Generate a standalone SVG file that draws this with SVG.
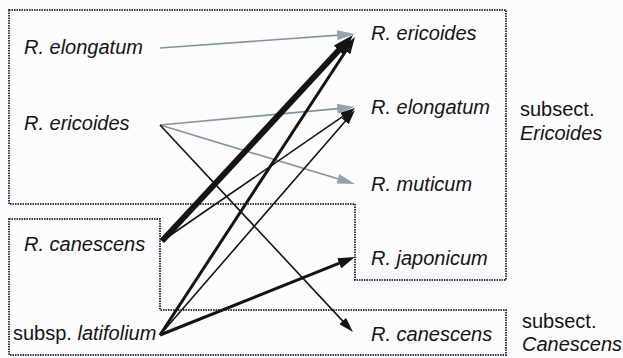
<svg xmlns="http://www.w3.org/2000/svg" width="623" height="358" viewBox="0 0 623 358">
<style>
text{font-family:"Liberation Sans",Arial,sans-serif;font-size:20px;fill:#141414}
.it{font-style:italic}
.box{fill:none;stroke:#2f3c46;stroke-width:2;stroke-dasharray:1.5 1}
.g{stroke:#7f96a1;stroke-width:1.6;fill:none}
.k1{stroke:#141414;stroke-width:1.6;fill:none}
.k3{stroke:#141414;stroke-width:3;fill:none}
.k6{stroke:#141414;stroke-width:6;fill:none}
</style>
<defs>
<marker id="ag" markerUnits="userSpaceOnUse" markerWidth="18" markerHeight="10" refX="12" refY="5" orient="auto"><path d="M0,0 L18,5 L0,10 z" fill="#98a3a9"/></marker>
<marker id="ak1" markerUnits="userSpaceOnUse" markerWidth="15" markerHeight="9" refX="9" refY="4.5" orient="auto"><path d="M0,0 L15,4.5 L0,9 z" fill="#141414"/></marker>
<marker id="ak3" markerUnits="userSpaceOnUse" markerWidth="17" markerHeight="11" refX="11" refY="5.5" orient="auto"><path d="M0,0 L17,5.5 L0,11 z" fill="#141414"/></marker>
<marker id="ak6" markerUnits="userSpaceOnUse" markerWidth="21" markerHeight="14" refX="11" refY="7" orient="auto"><path d="M0,0 L21,7 L0,14 z" fill="#141414"/></marker>
</defs>
<rect width="623" height="358" fill="#fcfcfe"/>
<g id="groups">
<path class="box" d="M9,10 L506,10 L506,280 L355,280 L355,204 L9,204 Z"/>
<path class="box" d="M9,219 L160,219 L160,310 L506,310 L506,355 L9,355 Z"/>
</g>
<g id="connectors">
<line class="g" x1="160" y1="48" x2="349" y2="34.4" marker-end="url(#ag)"/>
<line class="g" x1="160" y1="125" x2="349" y2="107.6" marker-end="url(#ag)"/>
<line class="g" x1="160" y1="125" x2="349.3" y2="182.3" marker-end="url(#ag)"/>
<line class="k1" x1="160" y1="125" x2="348.9" y2="327.6" marker-end="url(#ak1)"/>
<line class="k6" x1="162" y1="241" x2="346.2" y2="42.3" marker-end="url(#ak6)"/>
<line class="k1" x1="162" y1="241" x2="350.1" y2="111.4" marker-end="url(#ak1)"/>
<line class="k3" x1="160" y1="335" x2="351.7" y2="42" marker-end="url(#ak3)"/>
<line class="k1" x1="160" y1="335" x2="351.1" y2="114.5" marker-end="url(#ak1)"/>
<line class="k3" x1="160" y1="335" x2="349.4" y2="259.2" marker-end="url(#ak3)"/>
</g>
<g id="src-elongatum"><text class="it" x="24" y="54">R. elongatum</text></g>
<g id="src-ericoides"><text class="it" x="24" y="130">R. ericoides</text></g>
<g id="src-canescens"><text class="it" x="24" y="251">R. canescens</text></g>
<g id="src-latifolium"><text x="13" y="340">subsp. <tspan class="it">latifolium</tspan></text></g>
<g id="tgt-ericoides"><text class="it" x="371" y="40">R. ericoides</text></g>
<g id="tgt-elongatum"><text class="it" x="371" y="114">R. elongatum</text></g>
<g id="tgt-muticum"><text class="it" x="371" y="191">R. muticum</text></g>
<g id="tgt-japonicum"><text class="it" x="371" y="265">R. japonicum</text></g>
<g id="tgt-canescens"><text class="it" x="371" y="341">R. canescens</text></g>
<g id="label-ericoides"><text x="520" y="116">subsect.</text><text class="it" x="520" y="140">Ericoides</text></g>
<g id="label-canescens"><text x="522" y="328">subsect.</text><text class="it" x="522" y="351">Canescens</text></g>
</svg>
